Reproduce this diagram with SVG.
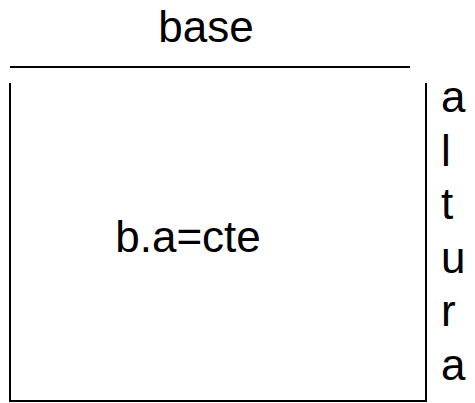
<svg xmlns="http://www.w3.org/2000/svg" width="475" height="403" viewBox="0 0 475 403">
<style>
text { font-family: "Liberation Sans", Arial, sans-serif; font-size: 44px; fill: #000; }
.ln { stroke: #000; stroke-width: 2; fill: none; }
</style>
<rect width="475" height="403" fill="#fff"/>
<g id="base-label">
<line class="ln" x1="10" y1="67" x2="410" y2="67"/>
<text x="206" y="42" text-anchor="middle">base</text>
</g>
<g id="rect">
<polyline class="ln" points="10,83 10,401 426,401 426,83"/>
<text x="188" y="252" text-anchor="middle">b.a=cte</text>
</g>
<g id="altura">
<text x="441" y="112">a</text>
<text x="441" y="166">l</text>
<text x="441" y="219">t</text>
<text x="441" y="273">u</text>
<text x="441" y="326">r</text>
<text x="441" y="380">a</text>
</g>
</svg>
